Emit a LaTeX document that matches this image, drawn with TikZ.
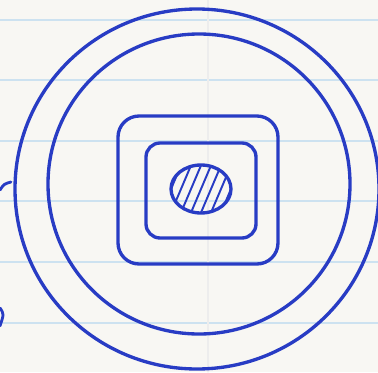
\documentclass[tikz,border=0pt]{standalone}
\definecolor{inkblue}{RGB}{40,60,196}
\definecolor{paper}{RGB}{248,247,243}
\definecolor{ruleblue}{RGB}{205,226,240}
\begin{document}
\begin{tikzpicture}[x=0.02cm, y=-0.02cm, line cap=round, line join=round,
  ink/.style={draw=inkblue, line width=1.9pt},
  hatch/.style={draw=inkblue, line width=1.1pt}]
  \useasboundingbox (0,0) rectangle (378,372);
  \clip (0,0) rectangle (378,372);
  \fill[paper] (0,0) rectangle (378,372);
  % ruled paper
  \foreach \y in {20, 80, 141, 201, 262, 323}
    \draw[ruleblue, line width=0.7pt] (0,\y) -- (378,\y);
  \draw[black!7, line width=0.6pt] (208,0) -- (208,372);
  % outer and inner rings
  \draw[ink] (197,189) ellipse [x radius=182, y radius=180];
  \draw[ink] (199,184) ellipse [x radius=151, y radius=150];
  % squares
  \draw[ink, rounded corners=12] (118,116) rectangle (278,264);
  \draw[ink, rounded corners=8] (146,143) rectangle (256,238);
  % hatched core
  \draw[ink] (201,189) ellipse [x radius=30, y radius=24];
  \begin{scope}
    \clip (201,189) ellipse [x radius=29, y radius=23];
    \foreach \x in {161,171,...,241}
      \draw[hatch] (\x-14,222) -- (\x+14,156);
  \end{scope}
  % marks at the left edge
  \draw[inkblue, line width=1.6pt] (0,190) .. controls (4,184) .. (11,182);
  \draw[inkblue, line width=1.6pt] (0,308) .. controls (4,314) .. (0,326);
\end{tikzpicture}
\end{document}
